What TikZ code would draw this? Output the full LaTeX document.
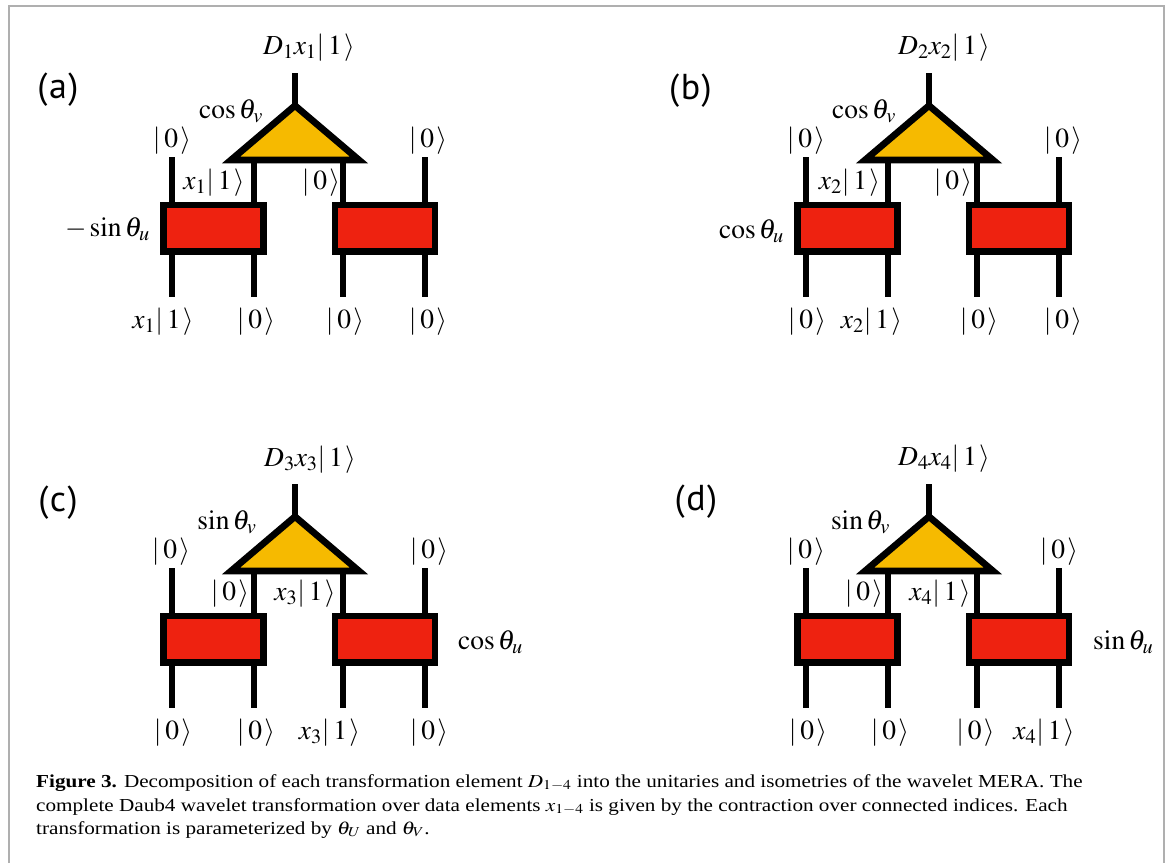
\documentclass[tikz,border=0pt]{standalone}
\usepackage{mathptmx}
\usepackage{fontspec}
\setmainfont{Liberation Serif}
\newfontfamily\panelfont{PT Sans}
\newcommand{\kt}[1]{|\mkern2.5mu#1\mkern1.5mu\rangle}
\definecolor{boxred}{RGB}{238,34,16}
\definecolor{triyel}{RGB}{246,186,0}
\definecolor{framegray}{RGB}{175,175,175}
\tikzset{
  wire/.style={line width=6.7pt, line cap=butt},
  ubox/.style={draw, line width=6.7pt, fill=boxred, minimum width=100pt, minimum height=46.7pt, inner sep=0pt},
  tri/.style={draw, line width=6.7pt, fill=triyel, line join=miter, miter limit=10},
  lbl/.style={inner sep=0pt, font=\fontsize{27.5}{32}\selectfont},
  plbl/.style={inner sep=0pt, font=\panelfont\fontsize{36}{40}\selectfont},
  captext/.style={inner sep=0pt, anchor=base west, font=\fontsize{18.3}{23}\selectfont},
  framel/.style={draw=framegray, line width=2pt}
}
\newcommand{\pname}[1]{(\kern1.5pt#1\kern1.5pt)}
\begin{document}
\begin{tikzpicture}[x=1pt,y=-1pt]
\useasboundingbox (0,0) rectangle (1173,863);
\fill[white] (0,0) rectangle (1173,863);
% frame
\coordinate (f1) at (9,863); \coordinate (f2) at (9,6);
\coordinate (f3) at (1164,6); \coordinate (f4) at (1164,863);
\draw[framel] (f1) -- (f2) -- (f3) -- (f4);
% geometry of the four panels
\foreach \p/\dx/\dy in {a/0/0, b/634/0, c/0/411, d/634/411}{
\begin{scope}[shift={(\dx,\dy)}]
  \coordinate (\p-top) at (295,73);
  \coordinate (\p-apex) at (295,105.6);
  \coordinate (\p-bl) at (231,160);
  \coordinate (\p-br) at (359,160);
  \coordinate (\p-o1) at (172,157);
  \coordinate (\p-o4) at (425,157);
  \coordinate (\p-m2) at (254,160);
  \coordinate (\p-m3) at (343,160);
  \coordinate (\p-b1) at (172,297);
  \coordinate (\p-b2) at (254,297);
  \coordinate (\p-b3) at (343,297);
  \coordinate (\p-b4) at (425,297);
  \draw[wire] (\p-top) -- (\p-apex);
  \draw[wire] (\p-o1) -- (\p-b1);
  \draw[wire] (\p-m2) -- (\p-b2);
  \draw[wire] (\p-m3) -- (\p-b3);
  \draw[wire] (\p-o4) -- (\p-b4);
  \filldraw[tri] (\p-apex) -- (\p-br) -- (\p-bl) -- cycle;
  \node[ubox] (\p-U1) at (213.3,228.35) {};
  \node[ubox] (\p-U2) at (385,228.35) {};
\end{scope}
}
% panel (a) labels
\node[plbl] (a-name) at (58,90) {\pname{a}};
\node[lbl] (a-out) at (309,48) {$D_1x_1\kt{1}$};
\node[lbl] (a-v) at (231,111) {$\cos\theta_v$};
\node[lbl] (a-t1) at (172,141) {$\kt{0}$};
\node[lbl] (a-t4) at (428,141) {$\kt{0}$};
\node[lbl] (a-i1) at (214,183) {$x_1\kt{1}$};
\node[lbl] (a-i2) at (321,183) {$\kt{0}$};
\node[lbl, anchor=east] (a-u) at (150,229) {$-\sin\theta_u$};
\node[lbl] (a-in1) at (163,322) {$x_1\kt{1}$};
\node[lbl] (a-in2) at (256,322) {$\kt{0}$};
\node[lbl] (a-in3) at (345,322) {$\kt{0}$};
\node[lbl] (a-in4) at (428,322) {$\kt{0}$};
% panel (b) labels
\begin{scope}[shift={(634,0)}]
\node[plbl] (b-name) at (56.5,91) {\pname{b}};
\node[lbl] (b-out) at (310,48) {$D_2x_2\kt{1}$};
\node[lbl] (b-v) at (230,111) {$\cos\theta_v$};
\node[lbl] (b-t1) at (172,141) {$\kt{0}$};
\node[lbl] (b-t4) at (429,141) {$\kt{0}$};
\node[lbl] (b-i1) at (215.5,183) {$x_2\kt{1}$};
\node[lbl] (b-i2) at (319,183) {$\kt{0}$};
\node[lbl, anchor=east] (b-u) at (150,231) {$\cos\theta_u$};
\node[lbl] (b-in1) at (173,322) {$\kt{0}$};
\node[lbl] (b-in2) at (237.5,322) {$x_2\kt{1}$};
\node[lbl] (b-in3) at (345,322) {$\kt{0}$};
\node[lbl] (b-in4) at (429,322) {$\kt{0}$};
\end{scope}
% panel (c) labels
\begin{scope}[shift={(0,411)}]
\node[plbl] (c-name) at (58,92) {\pname{c}};
\node[lbl] (c-out) at (310,49) {$D_3x_3\kt{1}$};
\node[lbl] (c-v) at (227,111) {$\sin\theta_v$};
\node[lbl] (c-t1) at (171,141) {$\kt{0}$};
\node[lbl] (c-t4) at (429,141) {$\kt{0}$};
\node[lbl] (c-i1) at (230,183) {$\kt{0}$};
\node[lbl] (c-i2) at (305,183) {$x_3\kt{1}$};
\node[lbl, anchor=west] (c-u) at (458,231) {$\cos\theta_u$};
\node[lbl] (c-in1) at (173,322) {$\kt{0}$};
\node[lbl] (c-in2) at (256,322) {$\kt{0}$};
\node[lbl] (c-in3) at (329.5,322) {$x_3\kt{1}$};
\node[lbl] (c-in4) at (429,322) {$\kt{0}$};
\end{scope}
% panel (d) labels
\begin{scope}[shift={(634,411)}]
\node[plbl] (d-name) at (62,91) {\pname{d}};
\node[lbl] (d-out) at (310,48) {$D_4x_4\kt{1}$};
\node[lbl] (d-v) at (226.5,111) {$\sin\theta_v$};
\node[lbl] (d-t1) at (172,141) {$\kt{0}$};
\node[lbl] (d-t4) at (425,141) {$\kt{0}$};
\node[lbl] (d-i1) at (230,183) {$\kt{0}$};
\node[lbl] (d-i2) at (306,183) {$x_4\kt{1}$};
\node[lbl, anchor=west] (d-u) at (459,231) {$\sin\theta_u$};
\node[lbl] (d-in1) at (174,322) {$\kt{0}$};
\node[lbl] (d-in2) at (256,322) {$\kt{0}$};
\node[lbl] (d-in3) at (341.5,322) {$\kt{0}$};
\node[lbl] (d-in4) at (410,322) {$x_4\kt{1}$};
\end{scope}
% caption
\node[captext] (cap1) at (36,787) {\scalebox{1.157}[1]{\textbf{Figure 3.} Decomposition of each transformation element $D_{1-4}$ into the unitaries and isometries of the wavelet MERA. The}};
\node[captext] (cap2) at (36,811) {\scalebox{1.157}[1]{complete Daub4 wavelet transformation over data elements $x_{1-4}$ is given by the contraction over connected indices. Each}};
\node[captext] (cap3) at (36,834) {\scalebox{1.157}[1]{transformation is parameterized by $\theta_U$ and $\theta_V$.}};
\end{tikzpicture}
\end{document}
